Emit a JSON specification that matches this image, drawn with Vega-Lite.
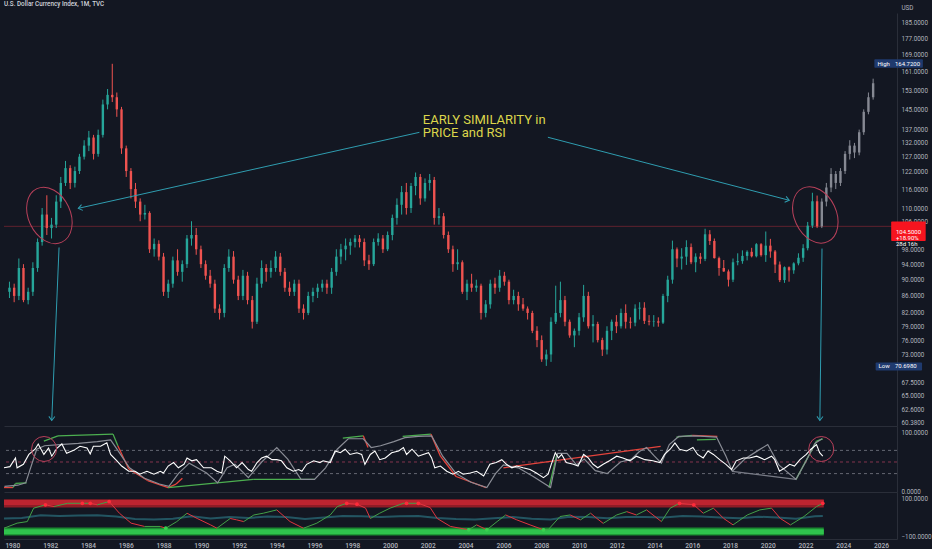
{
  "$schema": "https://vega.github.io/schema/vega-lite/v6.json",
  "background": "#131722",
  "padding": 0,
  "spacing": 0,
  "bounds": "flush",
  "resolve": {"scale": {"color": "independent"}},
  "title": {
    "text": "U.S. Dollar Currency Index, 1M, TVC",
    "anchor": "start",
    "frame": "bounds",
    "offset": 0,
    "dx": 4,
    "dy": 3,
    "fontSize": 6.3,
    "fontWeight": 500,
    "font": "Roboto",
    "color": "#d1d4dc"
  },
  "config": {
    "view": {"stroke": null},
    "font": "Roboto",
    "axis": {
      "grid": false,
      "ticks": false,
      "labelFont": "Roboto",
      "labelColor": "#b2b5be",
      "labelFontSize": 6.3,
      "domainColor": "#2a2e39",
      "title": null
    }
  },
  "datasets": {
    "candles": [
      {"t":"1979-08","o":87,"h":89.5,"l":85.5,"c":88},
      {"t":"1979-11","o":88,"h":89,"l":84.5,"c":86},
      {"t":"1980-02","o":86,"h":95.5,"l":85,"c":93},
      {"t":"1980-05","o":93,"h":94,"l":84.5,"c":85},
      {"t":"1980-08","o":85,"h":88,"l":84,"c":87},
      {"t":"1980-11","o":87,"h":94.5,"l":86,"c":93},
      {"t":"1981-02","o":93,"h":101,"l":92,"c":100},
      {"t":"1981-05","o":100,"h":110,"l":99,"c":108},
      {"t":"1981-08","o":108,"h":114,"l":102,"c":104},
      {"t":"1981-11","o":104,"h":107,"l":101,"c":105},
      {"t":"1982-02","o":105,"h":114,"l":104,"c":112},
      {"t":"1982-05","o":112,"h":120,"l":110,"c":118},
      {"t":"1982-08","o":118,"h":125.5,"l":117,"c":123},
      {"t":"1982-11","o":123,"h":124,"l":116,"c":118},
      {"t":"1983-02","o":118,"h":123.5,"l":116.5,"c":122},
      {"t":"1983-05","o":122,"h":128,"l":121,"c":127},
      {"t":"1983-08","o":127,"h":133,"l":126,"c":131},
      {"t":"1983-11","o":131,"h":136.5,"l":129,"c":134},
      {"t":"1984-02","o":134,"h":135,"l":126,"c":128},
      {"t":"1984-05","o":128,"h":137,"l":127,"c":135},
      {"t":"1984-08","o":135,"h":149,"l":134,"c":147},
      {"t":"1984-11","o":147,"h":153.5,"l":145,"c":151},
      {"t":"1985-02","o":151,"h":164.72,"l":148,"c":150},
      {"t":"1985-05","o":150,"h":152,"l":142,"c":145},
      {"t":"1985-08","o":145,"h":146,"l":128,"c":130},
      {"t":"1985-11","o":130,"h":131,"l":120,"c":122},
      {"t":"1986-02","o":122,"h":123,"l":113,"c":116},
      {"t":"1986-05","o":116,"h":118,"l":110,"c":112},
      {"t":"1986-08","o":112,"h":113,"l":106,"c":108},
      {"t":"1986-11","o":108,"h":111,"l":106.5,"c":108.5},
      {"t":"1987-02","o":108.5,"h":109,"l":97,"c":98},
      {"t":"1987-05","o":98,"h":101,"l":96,"c":99.5},
      {"t":"1987-08","o":99.5,"h":100.5,"l":95,"c":96},
      {"t":"1987-11","o":96,"h":97,"l":86,"c":87},
      {"t":"1988-02","o":87,"h":90,"l":85.5,"c":89},
      {"t":"1988-05","o":89,"h":96,"l":88,"c":95},
      {"t":"1988-08","o":95,"h":98,"l":91,"c":92},
      {"t":"1988-11","o":92,"h":95,"l":89.5,"c":94},
      {"t":"1989-02","o":94,"h":102,"l":93,"c":101},
      {"t":"1989-05","o":101,"h":106,"l":99,"c":102},
      {"t":"1989-08","o":102,"h":104,"l":96.5,"c":98},
      {"t":"1989-11","o":98,"h":99,"l":93,"c":94},
      {"t":"1990-02","o":94,"h":95,"l":90,"c":91},
      {"t":"1990-05","o":91,"h":92.5,"l":88,"c":89},
      {"t":"1990-08","o":89,"h":90,"l":82,"c":83},
      {"t":"1990-11","o":83,"h":84,"l":80.5,"c":82},
      {"t":"1991-02","o":82,"h":94,"l":81,"c":93},
      {"t":"1991-05","o":93,"h":98,"l":92,"c":96},
      {"t":"1991-08","o":96,"h":97.5,"l":89,"c":90},
      {"t":"1991-11","o":90,"h":91,"l":85,"c":86},
      {"t":"1992-02","o":86,"h":92.5,"l":85,"c":91},
      {"t":"1992-05","o":91,"h":92,"l":84,"c":85},
      {"t":"1992-08","o":85,"h":86,"l":78.5,"c":80},
      {"t":"1992-11","o":80,"h":90.5,"l":79.5,"c":89},
      {"t":"1993-02","o":89,"h":95,"l":88,"c":93},
      {"t":"1993-05","o":93,"h":94,"l":89.5,"c":92},
      {"t":"1993-08","o":92,"h":95,"l":90.5,"c":93},
      {"t":"1993-11","o":93,"h":97.5,"l":92,"c":96},
      {"t":"1994-02","o":96,"h":97,"l":91,"c":92},
      {"t":"1994-05","o":92,"h":93,"l":87,"c":88},
      {"t":"1994-08","o":88,"h":89.5,"l":86,"c":87},
      {"t":"1994-11","o":87,"h":90,"l":86,"c":89},
      {"t":"1995-02","o":89,"h":90,"l":82,"c":83},
      {"t":"1995-05","o":83,"h":84,"l":80.5,"c":82},
      {"t":"1995-08","o":82,"h":87,"l":81.5,"c":86},
      {"t":"1995-11","o":86,"h":88,"l":84.5,"c":87},
      {"t":"1996-02","o":87,"h":89,"l":85.5,"c":88},
      {"t":"1996-05","o":88,"h":90,"l":87,"c":89},
      {"t":"1996-08","o":89,"h":90,"l":86.5,"c":88},
      {"t":"1996-11","o":88,"h":93,"l":86.5,"c":92},
      {"t":"1997-02","o":92,"h":98,"l":91,"c":96},
      {"t":"1997-05","o":96,"h":99.5,"l":94,"c":98},
      {"t":"1997-08","o":98,"h":101,"l":95,"c":99},
      {"t":"1997-11","o":99,"h":101,"l":96.5,"c":100},
      {"t":"1998-02","o":100,"h":102,"l":98.5,"c":101},
      {"t":"1998-05","o":101,"h":102,"l":98.5,"c":100},
      {"t":"1998-08","o":100,"h":101,"l":93.5,"c":95},
      {"t":"1998-11","o":95,"h":96.5,"l":92.5,"c":94},
      {"t":"1999-02","o":94,"h":101,"l":93.5,"c":100},
      {"t":"1999-05","o":100,"h":102.5,"l":99,"c":101},
      {"t":"1999-08","o":101,"h":102,"l":97,"c":98},
      {"t":"1999-11","o":98,"h":103,"l":97.5,"c":102},
      {"t":"2000-02","o":102,"h":108,"l":100.5,"c":107},
      {"t":"2000-05","o":107,"h":113,"l":105,"c":111},
      {"t":"2000-08","o":111,"h":117,"l":108,"c":115},
      {"t":"2000-11","o":115,"h":118,"l":108,"c":110},
      {"t":"2001-02","o":110,"h":118,"l":108.5,"c":117},
      {"t":"2001-05","o":117,"h":121.5,"l":114,"c":120},
      {"t":"2001-08","o":120,"h":121,"l":111,"c":113},
      {"t":"2001-11","o":113,"h":119.5,"l":112,"c":118},
      {"t":"2002-02","o":118,"h":121,"l":115.5,"c":119},
      {"t":"2002-05","o":119,"h":120,"l":105,"c":107},
      {"t":"2002-08","o":107,"h":110,"l":105,"c":107.5},
      {"t":"2002-11","o":107.5,"h":108.5,"l":101,"c":102},
      {"t":"2003-02","o":102,"h":103,"l":97,"c":98},
      {"t":"2003-05","o":98,"h":99,"l":92,"c":94},
      {"t":"2003-08","o":94,"h":98,"l":92.5,"c":94.5},
      {"t":"2003-11","o":94.5,"h":95,"l":86.5,"c":87},
      {"t":"2004-02","o":87,"h":90,"l":85,"c":89},
      {"t":"2004-05","o":89,"h":91.5,"l":87,"c":88},
      {"t":"2004-08","o":88,"h":90,"l":87,"c":88.5},
      {"t":"2004-11","o":88.5,"h":89,"l":80.5,"c":82},
      {"t":"2005-02","o":82,"h":85,"l":81,"c":84},
      {"t":"2005-05","o":84,"h":90,"l":83,"c":89},
      {"t":"2005-08","o":89,"h":90.5,"l":86.5,"c":88},
      {"t":"2005-11","o":88,"h":92.5,"l":87,"c":91},
      {"t":"2006-02","o":91,"h":92,"l":88.5,"c":89.5},
      {"t":"2006-05","o":89.5,"h":90,"l":84,"c":85},
      {"t":"2006-08","o":85,"h":87.5,"l":84,"c":86},
      {"t":"2006-11","o":86,"h":87,"l":82.5,"c":84},
      {"t":"2007-02","o":84,"h":85.5,"l":82.5,"c":83},
      {"t":"2007-05","o":83,"h":83.5,"l":80.5,"c":82},
      {"t":"2007-08","o":82,"h":82.5,"l":77.5,"c":78},
      {"t":"2007-11","o":78,"h":79,"l":74.5,"c":76},
      {"t":"2008-02","o":76,"h":77,"l":71.5,"c":72},
      {"t":"2008-05","o":72,"h":74,"l":70.698,"c":73},
      {"t":"2008-08","o":73,"h":81,"l":71.5,"c":80},
      {"t":"2008-11","o":80,"h":88.5,"l":79.5,"c":82},
      {"t":"2009-02","o":82,"h":89.5,"l":81,"c":85},
      {"t":"2009-05","o":85,"h":86,"l":79,"c":80},
      {"t":"2009-08","o":80,"h":80.5,"l":76.5,"c":77},
      {"t":"2009-11","o":77,"h":78.5,"l":74.5,"c":78},
      {"t":"2010-02","o":78,"h":82,"l":77,"c":81},
      {"t":"2010-05","o":81,"h":88.7,"l":80,"c":86},
      {"t":"2010-08","o":86,"h":87,"l":78.5,"c":79},
      {"t":"2010-11","o":79,"h":81.5,"l":75.5,"c":79.5},
      {"t":"2011-02","o":79.5,"h":80,"l":75.5,"c":76},
      {"t":"2011-05","o":76,"h":76.5,"l":72.7,"c":74},
      {"t":"2011-08","o":74,"h":79,"l":73,"c":78},
      {"t":"2011-11","o":78,"h":80.5,"l":76,"c":80},
      {"t":"2012-02","o":80,"h":81.5,"l":77.5,"c":79},
      {"t":"2012-05","o":79,"h":83,"l":78.5,"c":82},
      {"t":"2012-08","o":82,"h":84,"l":78.5,"c":80},
      {"t":"2012-11","o":80,"h":81,"l":78.5,"c":79.8},
      {"t":"2013-02","o":79.8,"h":84,"l":79,"c":83},
      {"t":"2013-05","o":83,"h":84.5,"l":80.5,"c":83.2},
      {"t":"2013-08","o":83.2,"h":84.5,"l":79.5,"c":80.2},
      {"t":"2013-11","o":80.2,"h":81.5,"l":79.2,"c":80},
      {"t":"2014-02","o":80,"h":81.5,"l":78.9,"c":80.1},
      {"t":"2014-05","o":80.1,"h":81,"l":78.9,"c":79.8},
      {"t":"2014-08","o":79.8,"h":86.5,"l":79.5,"c":86},
      {"t":"2014-11","o":86,"h":91,"l":84.5,"c":90},
      {"t":"2015-02","o":90,"h":100.4,"l":89,"c":98},
      {"t":"2015-05","o":98,"h":98.5,"l":93.2,"c":95.5},
      {"t":"2015-08","o":95.5,"h":98.3,"l":92.6,"c":96},
      {"t":"2015-11","o":96,"h":100.5,"l":93.8,"c":98.6},
      {"t":"2016-02","o":98.6,"h":99.6,"l":94,"c":94.5},
      {"t":"2016-05","o":94.5,"h":96.9,"l":91.9,"c":96},
      {"t":"2016-08","o":96,"h":97,"l":94.1,"c":95.4},
      {"t":"2016-11","o":95.4,"h":103.8,"l":94.8,"c":102.2},
      {"t":"2017-02","o":102.2,"h":103.4,"l":99.2,"c":100.3},
      {"t":"2017-05","o":100.3,"h":101,"l":95.5,"c":95.6},
      {"t":"2017-08","o":95.6,"h":96,"l":91,"c":93},
      {"t":"2017-11","o":93,"h":95.1,"l":92,"c":92.1},
      {"t":"2018-02","o":92.1,"h":92.6,"l":88.3,"c":90},
      {"t":"2018-05","o":90,"h":95.5,"l":89.4,"c":94.5},
      {"t":"2018-08","o":94.5,"h":96.9,"l":93.7,"c":94.8},
      {"t":"2018-11","o":94.8,"h":97.7,"l":94.1,"c":96.2},
      {"t":"2019-02","o":96.2,"h":97.7,"l":95,"c":97.3},
      {"t":"2019-05","o":97.3,"h":98.4,"l":95.8,"c":96.1},
      {"t":"2019-08","o":96.1,"h":99.7,"l":95.8,"c":99.4},
      {"t":"2019-11","o":99.4,"h":99.7,"l":96,"c":96.4},
      {"t":"2020-02","o":96.4,"h":103,"l":94.6,"c":99},
      {"t":"2020-05","o":99,"h":100.9,"l":95.7,"c":97.4},
      {"t":"2020-08","o":97.4,"h":97.8,"l":91.7,"c":93.9},
      {"t":"2020-11","o":93.9,"h":94.7,"l":89.4,"c":89.9},
      {"t":"2021-02","o":89.9,"h":93.4,"l":89.2,"c":93.2},
      {"t":"2021-05","o":93.2,"h":93.4,"l":89.5,"c":92.4},
      {"t":"2021-08","o":92.4,"h":94.5,"l":91.5,"c":94.2},
      {"t":"2021-11","o":94.2,"h":96.9,"l":93.7,"c":95.7},
      {"t":"2022-02","o":95.7,"h":99.4,"l":94.6,"c":98.3},
      {"t":"2022-05","o":98.3,"h":105.8,"l":97.7,"c":104.7},
      {"t":"2022-08","o":104.7,"h":114.8,"l":104,"c":112.1},
      {"t":"2022-11","o":112.1,"h":113.9,"l":104,"c":104.5}
    ],
    "proj": [
      {"t":"2023-02","o":104.5,"h":113,"l":104,"c":112},
      {"t":"2023-05","o":112,"h":118,"l":110.5,"c":116.5},
      {"t":"2023-08","o":116.5,"h":123,"l":115,"c":121},
      {"t":"2023-11","o":121,"h":122,"l":116,"c":118},
      {"t":"2024-02","o":118,"h":123,"l":117,"c":122},
      {"t":"2024-05","o":122,"h":129,"l":121,"c":128},
      {"t":"2024-08","o":128,"h":133,"l":126,"c":131},
      {"t":"2024-11","o":131,"h":132,"l":126.5,"c":128.5},
      {"t":"2025-02","o":128.5,"h":137,"l":127.5,"c":136},
      {"t":"2025-05","o":136,"h":145,"l":135,"c":144},
      {"t":"2025-08","o":144,"h":152,"l":143,"c":150},
      {"t":"2025-11","o":150,"h":158,"l":149,"c":156}
    ],
    "rsi": [
      {"t":"1979-07-23","v":40},{"t":"1979-11-15","v":42},{"t":"1980-03-01","v":57},{"t":"1980-04-01","v":40},
      {"t":"1980-08-01","v":46},{"t":"1980-11-15","v":63},{"t":"1981-03-15","v":72},{"t":"1981-05-15","v":81},
      {"t":"1981-09-01","v":63},{"t":"1981-12-01","v":74},{"t":"1982-02-01","v":60},{"t":"1982-05-15","v":74},
      {"t":"1982-08-15","v":81},{"t":"1982-11-15","v":65},{"t":"1983-04-01","v":70},{"t":"1983-08-01","v":77},
      {"t":"1983-12-15","v":74},{"t":"1984-02-15","v":64},{"t":"1984-04-15","v":77},{"t":"1984-09-01","v":77},
      {"t":"1984-11-01","v":80},{"t":"1985-01-01","v":83},{"t":"1985-03-15","v":63},{"t":"1985-07-15","v":52},
      {"t":"1985-10-15","v":43},{"t":"1986-03-01","v":34},{"t":"1986-07-01","v":34},{"t":"1986-10-01","v":29},
      {"t":"1987-02-15","v":34},{"t":"1987-07-01","v":29},{"t":"1987-11-01","v":34},{"t":"1988-01-01","v":31},
      {"t":"1988-04-01","v":43},{"t":"1988-07-15","v":49},{"t":"1988-10-15","v":40},{"t":"1989-02-01","v":46},
      {"t":"1989-04-01","v":57},{"t":"1989-07-01","v":52},{"t":"1989-10-01","v":54},{"t":"1990-02-15","v":40},
      {"t":"1990-07-15","v":40},{"t":"1990-11-01","v":34},{"t":"1991-02-01","v":31},{"t":"1991-04-01","v":60},
      {"t":"1991-07-15","v":52},{"t":"1991-11-15","v":40},{"t":"1992-03-01","v":49},{"t":"1992-07-01","v":37},
      {"t":"1992-09-01","v":34},{"t":"1992-12-15","v":49},{"t":"1993-03-15","v":57},{"t":"1993-06-15","v":60},
      {"t":"1993-10-01","v":54},{"t":"1994-01-01","v":54},{"t":"1994-04-01","v":52},{"t":"1994-07-15","v":40},
      {"t":"1994-11-15","v":34},{"t":"1995-03-01","v":37},{"t":"1995-05-01","v":34},{"t":"1995-08-01","v":46},
      {"t":"1995-12-15","v":52},{"t":"1996-04-15","v":49},{"t":"1996-06-15","v":52},{"t":"1996-11-01","v":49},
      {"t":"1997-02-01","v":69},{"t":"1997-05-15","v":66},{"t":"1997-08-15","v":72},{"t":"1997-11-15","v":63},
      {"t":"1998-04-01","v":66},{"t":"1998-07-01","v":63},{"t":"1998-09-01","v":46},{"t":"1998-12-15","v":63},
      {"t":"1999-03-15","v":69},{"t":"1999-06-15","v":54},{"t":"1999-10-01","v":57},{"t":"2000-02-01","v":66},
      {"t":"2000-06-15","v":69},{"t":"2000-09-15","v":75},{"t":"2000-11-15","v":63},{"t":"2001-03-01","v":72},
      {"t":"2001-07-01","v":60},{"t":"2001-10-01","v":63},{"t":"2002-01-15","v":66},{"t":"2002-03-15","v":57},
      {"t":"2002-05-15","v":40},{"t":"2002-09-01","v":43},{"t":"2003-01-01","v":34},{"t":"2003-05-01","v":29},
      {"t":"2003-08-15","v":34},{"t":"2003-11-15","v":29},{"t":"2004-04-01","v":31},{"t":"2004-08-01","v":34},
      {"t":"2004-12-15","v":26},{"t":"2005-04-15","v":46},{"t":"2005-08-15","v":49},{"t":"2005-12-01","v":54},
      {"t":"2006-03-01","v":46},{"t":"2006-06-15","v":40},{"t":"2006-09-15","v":43},{"t":"2007-01-15","v":40},
      {"t":"2007-06-01","v":37},{"t":"2007-10-01","v":31},{"t":"2008-02-15","v":23},{"t":"2008-05-15","v":29},
      {"t":"2008-07-15","v":46},{"t":"2008-10-01","v":66},{"t":"2008-12-01","v":57},{"t":"2009-02-01","v":63},
      {"t":"2009-05-01","v":49},{"t":"2009-09-15","v":46},{"t":"2009-12-15","v":43},{"t":"2010-04-01","v":63},
      {"t":"2010-07-01","v":57},{"t":"2010-10-01","v":46},{"t":"2011-01-01","v":40},{"t":"2011-04-15","v":46},
      {"t":"2011-08-15","v":52},{"t":"2012-01-01","v":60},{"t":"2012-05-01","v":57},{"t":"2012-09-15","v":52},
      {"t":"2013-01-15","v":60},{"t":"2013-07-01","v":54},{"t":"2013-12-01","v":52},{"t":"2014-04-15","v":49},
      {"t":"2014-07-15","v":63},{"t":"2014-11-01","v":72},{"t":"2015-02-01","v":83},{"t":"2015-05-01","v":72},
      {"t":"2015-09-15","v":69},{"t":"2016-01-15","v":75},{"t":"2016-04-15","v":63},{"t":"2016-08-01","v":57},
      {"t":"2016-11-01","v":69},{"t":"2017-02-15","v":63},{"t":"2017-06-15","v":54},{"t":"2017-10-15","v":46},
      {"t":"2018-02-01","v":37},{"t":"2018-05-01","v":52},{"t":"2018-09-15","v":57},{"t":"2019-01-15","v":57},
      {"t":"2019-06-01","v":60},{"t":"2019-11-01","v":54},{"t":"2020-03-15","v":60},{"t":"2020-05-15","v":54},
      {"t":"2020-08-15","v":34},{"t":"2020-12-01","v":40},{"t":"2021-03-01","v":46},{"t":"2021-06-01","v":43},
      {"t":"2021-09-15","v":54},{"t":"2022-01-15","v":63},{"t":"2022-04-15","v":72},{"t":"2022-08-01","v":80},
      {"t":"2022-10-01","v":66},{"t":"2022-12-01","v":60}
    ],
    "slow": [
      {"t":"1979-08-01","v":8},{"t":"1980-04-15","v":10},{"t":"1980-09-15","v":14},{"t":"1981-04-15","v":72},
      {"t":"1981-09-15","v":78},{"t":"1982-07-01","v":80},{"t":"1983-07-01","v":82},{"t":"1984-07-01","v":85},
      {"t":"1985-03-15","v":88},{"t":"1985-08-01","v":70},{"t":"1986-03-15","v":40},{"t":"1987-01-01","v":22},
      {"t":"1987-10-15","v":12},{"t":"1988-04-15","v":8},{"t":"1988-10-15","v":30},{"t":"1989-05-15","v":48},
      {"t":"1990-04-15","v":31},{"t":"1990-11-15","v":14},{"t":"1991-05-15","v":40},{"t":"1991-10-15","v":46},
      {"t":"1992-07-01","v":23},{"t":"1993-03-15","v":50},{"t":"1994-01-01","v":75},{"t":"1994-08-01","v":55},
      {"t":"1995-04-15","v":20},{"t":"1996-01-01","v":20},{"t":"1996-08-01","v":40},{"t":"1997-03-15","v":72},
      {"t":"1997-10-15","v":90},{"t":"1998-08-01","v":90},{"t":"1999-01-01","v":75},{"t":"1999-07-01","v":78},
      {"t":"2000-03-15","v":85},{"t":"2000-10-15","v":92},{"t":"2001-07-01","v":94},{"t":"2002-03-15","v":95},
      {"t":"2002-10-15","v":60},{"t":"2003-07-01","v":30},{"t":"2004-04-15","v":15},{"t":"2005-02-15","v":6},
      {"t":"2005-08-01","v":30},{"t":"2006-01-01","v":45},{"t":"2006-10-15","v":40},{"t":"2007-08-01","v":25},
      {"t":"2008-07-01","v":6},{"t":"2008-11-15","v":65},{"t":"2009-05-15","v":65},{"t":"2009-11-15","v":45},
      {"t":"2010-04-15","v":55},{"t":"2010-11-15","v":35},{"t":"2011-07-01","v":30},{"t":"2012-03-15","v":50},
      {"t":"2012-10-15","v":55},{"t":"2013-03-15","v":68},{"t":"2013-08-01","v":75},{"t":"2014-01-01","v":60},
      {"t":"2014-05-15","v":48},{"t":"2014-10-15","v":80},{"t":"2015-04-15","v":94},{"t":"2016-03-15","v":95},
      {"t":"2017-04-15","v":93},{"t":"2017-10-15","v":60},{"t":"2018-02-15","v":34},{"t":"2018-10-15","v":55},
      {"t":"2019-07-01","v":70},{"t":"2020-01-01","v":80},{"t":"2020-08-01","v":45},{"t":"2021-07-01","v":20},
      {"t":"2022-01-01","v":50},{"t":"2022-07-01","v":82},{"t":"2022-11-15","v":90}
    ],
    "env": [
      {"k":"dn","t":"1979-07-23","v":6,"t2":"1980-01-15","v2":6},
      {"k":"up","t":"1980-01-15","v":6,"t2":"1980-03-01","v2":13},
      {"k":"up","t":"1980-03-01","v":13,"t2":"1980-10-01","v2":14},
      {"k":"up","t":"1981-09-01","v":86,"t2":"1982-06-01","v2":95},
      {"k":"up","t":"1982-06-01","v":95,"t2":"1985-05-01","v2":98},
      {"k":"up","t":"1985-05-01","v":98,"t2":"1985-08-01","v2":78},
      {"k":"dn","t":"1985-08-01","v":78,"t2":"1986-03-01","v2":38},
      {"k":"dn","t":"1986-03-01","v":38,"t2":"1987-03-01","v2":18},
      {"k":"dn","t":"1987-03-01","v":18,"t2":"1988-04-01","v2":6},
      {"k":"dn","t":"1988-04-01","v":6,"t2":"1988-09-01","v2":12},
      {"k":"dn","t":"1988-09-01","v":12,"t2":"1989-01-01","v2":22},
      {"k":"up","t":"1988-04-01","v":6,"t2":"1992-10-01","v2":20},
      {"k":"up","t":"1992-10-01","v":20,"t2":"1996-01-01","v2":20},
      {"k":"up","t":"1997-07-01","v":91,"t2":"1998-08-01","v2":95},
      {"k":"dn","t":"1998-08-01","v":95,"t2":"1998-11-01","v2":75},
      {"k":"up","t":"2000-09-01","v":94,"t2":"2002-03-01","v2":98},
      {"k":"dn","t":"2002-03-01","v":98,"t2":"2002-09-01","v2":60},
      {"k":"dn","t":"2002-09-01","v":60,"t2":"2003-07-01","v2":25},
      {"k":"dn","t":"2003-07-01","v":25,"t2":"2005-02-01","v2":6},
      {"k":"dn","t":"2006-01-01","v":40,"t2":"2014-05-01","v2":77},
      {"k":"up","t":"2008-06-01","v":6,"t2":"2008-11-01","v2":63},
      {"k":"up","t":"2015-03-01","v":93,"t2":"2016-01-01","v2":96},
      {"k":"dn","t":"2016-01-01","v":96,"t2":"2017-05-01","v2":94},
      {"k":"up","t":"2016-04-01","v":88,"t2":"2017-04-01","v2":89},
      {"k":"gr","t":"2018-02-15","v":34,"t2":"2021-07-01","v2":20},
      {"k":"up","t":"2021-07-01","v":20,"t2":"2022-08-01","v2":86},
      {"k":"up","t":"2022-08-01","v":86,"t2":"2022-12-01","v2":90}
    ],
    "osc": [
      {"t":"1979-07-23","v":-55},{"t":"1980-04-01","v":-29},{"t":"1980-10-15","v":-21},{"t":"1981-02-15","v":48},
      {"t":"1981-10-01","v":65,"d":"r"},{"t":"1982-03-15","v":56},{"t":"1982-12-01","v":73},{"t":"1983-09-15","v":73,"d":"r"},
      {"t":"1984-02-15","v":73,"d":"r"},{"t":"1984-07-01","v":65},{"t":"1985-02-15","v":82,"d":"r"},{"t":"1985-09-01","v":22},
      {"t":"1986-04-15","v":-29},{"t":"1987-01-01","v":-46},{"t":"1987-11-01","v":-46},{"t":"1988-02-15","v":-55,"d":"g"},
      {"t":"1988-09-15","v":-21},{"t":"1989-04-01","v":22},{"t":"1989-10-15","v":-5},{"t":"1990-07-01","v":-38},
      {"t":"1990-11-01","v":-55},{"t":"1991-07-15","v":-5},{"t":"1991-11-15","v":-12},{"t":"1992-04-01","v":-21},
      {"t":"1992-10-15","v":13},{"t":"1993-04-15","v":22},{"t":"1994-01-01","v":39},{"t":"1994-09-15","v":-21},
      {"t":"1995-06-01","v":-55},{"t":"1996-02-15","v":-29},{"t":"1996-11-01","v":13},{"t":"1997-03-15","v":56},
      {"t":"1997-09-15","v":73,"d":"r"},{"t":"1998-04-01","v":68,"d":"r"},{"t":"1998-09-15","v":48},{"t":"1998-12-15","v":-5},
      {"t":"1999-06-15","v":22},{"t":"2000-01-01","v":48},{"t":"2000-09-15","v":73},{"t":"2000-11-15","v":73,"d":"r"},
      {"t":"2001-07-01","v":73,"d":"r"},{"t":"2002-02-15","v":51},{"t":"2002-07-01","v":-5},{"t":"2003-03-15","v":-46},
      {"t":"2004-03-01","v":-63,"d":"g"},{"t":"2004-08-01","v":-38},{"t":"2005-02-15","v":-63,"d":"g"},{"t":"2005-09-01","v":-21},
      {"t":"2006-02-15","v":13},{"t":"2006-09-15","v":-12},{"t":"2007-06-01","v":-38},{"t":"2008-02-15","v":-63,"d":"g"},
      {"t":"2008-05-15","v":-63},{"t":"2009-01-01","v":5},{"t":"2009-07-15","v":13},{"t":"2010-02-01","v":-12},
      {"t":"2010-08-15","v":22},{"t":"2010-12-15","v":-5},{"t":"2011-04-15","v":-30},{"t":"2012-01-01","v":13},
      {"t":"2012-07-15","v":30},{"t":"2013-01-15","v":13},{"t":"2013-08-01","v":39},{"t":"2014-05-15","v":-21},
      {"t":"2014-11-01","v":48},{"t":"2015-05-01","v":73,"d":"r"},{"t":"2016-02-01","v":65,"d":"r"},{"t":"2016-08-01","v":22},
      {"t":"2017-02-15","v":48},{"t":"2017-09-01","v":-5},{"t":"2018-03-01","v":-38},{"t":"2018-12-01","v":13},
      {"t":"2019-08-01","v":39},{"t":"2020-03-15","v":48},{"t":"2020-09-01","v":-5},{"t":"2021-03-15","v":-38},
      {"t":"2021-12-01","v":5},{"t":"2022-08-01","v":56},{"t":"2022-12-01","v":73,"d":"r"}
    ],
    "sig": [
      {"t":"1979-07-23","v":-5},{"t":"1980-07-01","v":-3},{"t":"1981-07-01","v":12},{"t":"1982-07-01","v":8},
      {"t":"1983-07-01","v":10},{"t":"1984-07-01","v":12},{"t":"1985-07-01","v":5},{"t":"1986-07-01","v":-8},
      {"t":"1987-07-01","v":-10},{"t":"1988-07-01","v":-6},{"t":"1989-07-01","v":6},{"t":"1990-07-01","v":-5},
      {"t":"1991-07-01","v":2},{"t":"1992-07-01","v":-3},{"t":"1993-07-01","v":5},{"t":"1994-07-01","v":3},
      {"t":"1995-07-01","v":-8},{"t":"1996-07-01","v":0},{"t":"1997-07-01","v":8},{"t":"1998-07-01","v":6},
      {"t":"1999-07-01","v":2},{"t":"2000-07-01","v":6},{"t":"2001-07-01","v":8},{"t":"2002-07-01","v":-2},
      {"t":"2003-07-01","v":-8},{"t":"2004-07-01","v":-10},{"t":"2005-07-01","v":-4},{"t":"2006-07-01","v":2},
      {"t":"2007-07-01","v":-6},{"t":"2008-07-01","v":-10},{"t":"2009-07-01","v":4},{"t":"2010-07-01","v":2},
      {"t":"2011-07-01","v":-4},{"t":"2012-07-01","v":3},{"t":"2013-07-01","v":2},{"t":"2014-07-01","v":0},
      {"t":"2015-07-01","v":8},{"t":"2016-07-01","v":5},{"t":"2017-07-01","v":0},{"t":"2018-07-01","v":-4},
      {"t":"2019-07-01","v":4},{"t":"2020-07-01","v":0},{"t":"2021-07-01","v":-6},{"t":"2022-07-01","v":6},
      {"t":"2022-12-01","v":8}
    ],
    "arrows": [
      {"id":"a1","t":"2001-07-15","p":135.96,"t2":"1983-04-08","p2":109.9},
      {"id":"a2","t":"2008-06-01","p":134.1,"t2":"2021-05-05","p2":112.4},
      {"id":"a3","t":"1982-03-28","p":98.5,"t2":"1981-11-05","p2":60.68},
      {"id":"a4","t":"2023-02-05","p":98.2,"t2":"2022-12-25","p2":60.68}
    ],
    "boxes": [
      {"k":"hi","t":"2025-11-25","t2":"2028-07-01","p":166.8,"p2":162.9},
      {"k":"lo","t":"2025-12-20","t2":"2028-06-15","p":71.38,"p2":69.8},
      {"k":"last","t":"2026-10-20","t2":"2028-08-25","p":105.9,"p2":100.3}
    ],
    "tags": [
      {"t":"2026-01-25","p":164.72,"txt":"High"},
      {"t":"2027-01-01","p":164.72,"txt":"164.7200"},
      {"t":"2026-02-15","p":70.698,"txt":"Low"},
      {"t":"2027-01-01","p":70.698,"txt":"70.6980"},
      {"t":"2027-01-20","p":103.0,"txt":"104.5000\n+18.90%\n28d 16h"}
    ],
    "notes": [
      {"t":"2001-09-20","p":140.9,"txt":"EARLY SIMILARITY in"},
      {"t":"2001-09-20","p":135.6,"txt":"PRICE and RSI"}
    ]
  },
  "vconcat": [
    {
      "width": 893,
      "height": 413,
      "layer": [
        {
          "data": {"values": [{"p": 104.5}]},
          "mark": {"type": "rule", "color": "#f23645", "strokeOpacity": 0.35, "strokeWidth": 1},
          "encoding": {"y": {"field": "p", "type": "quantitative"}}
        },
        {
          "data": {"name": "candles"},
          "mark": {"type": "rule", "strokeWidth": 1},
          "encoding": {
            "x": {"field": "t", "type": "temporal",
              "scale": {"domain": [{"year": 1979, "month": 7, "date": 23}, {"year": 2026, "month": 11, "date": 5}]},
              "axis": {"labels": false, "ticks": false, "domain": true, "title": null, "grid": false}},
            "y": {"field": "l", "type": "quantitative",
              "scale": {"type": "log", "domain": [59.75, 189.9], "nice": false, "zero": false},
              "axis": {"orient": "right", "values": [60.38, 62.6, 65, 67.5, 73, 76, 79, 82, 86, 90, 94, 98, 106, 110, 116, 122, 127, 132, 137, 145, 153, 161, 169, 177, 185],
                "format": ".4f", "labelPadding": 4, "minExtent": 39, "maxExtent": 39, "domain": true,
                "title": "USD", "titleAngle": 0, "titleAlign": "left", "titleBaseline": "top", "titleX": 4, "titleY": -9,
                "titleColor": "#b2b5be", "titleFontSize": 6.3, "titleFontWeight": "normal", "titleFont": "Roboto"}},
            "y2": {"field": "h"},
            "color": {"condition": {"test": "datum.c >= datum.o", "value": "#26a69a"}, "value": "#ef5350"}
          }
        },
        {
          "data": {"name": "candles"},
          "mark": {"type": "bar", "width": 2.4},
          "encoding": {
            "x": {"field": "t", "type": "temporal"},
            "y": {"field": "o", "type": "quantitative"},
            "y2": {"field": "c"},
            "color": {"condition": {"test": "datum.c >= datum.o", "value": "#26a69a"}, "value": "#ef5350"}
          }
        },
        {
          "data": {"name": "proj"},
          "mark": {"type": "rule", "strokeWidth": 1, "color": "#868993"},
          "encoding": {
            "x": {"field": "t", "type": "temporal"},
            "y": {"field": "l", "type": "quantitative"},
            "y2": {"field": "h"}
          }
        },
        {
          "data": {"name": "proj"},
          "mark": {"type": "bar", "width": 2.4, "color": "#868993"},
          "encoding": {
            "x": {"field": "t", "type": "temporal"},
            "y": {"field": "o", "type": "quantitative"},
            "y2": {"field": "c"}
          }
        },
        {
          "data": {"name": "arrows"},
          "mark": {"type": "rule", "color": "#2f9db0", "strokeWidth": 1},
          "encoding": {
            "x": {"field": "t", "type": "temporal"},
            "x2": {"field": "t2"},
            "y": {"field": "p", "type": "quantitative"},
            "y2": {"field": "p2"}
          }
        },
        {
          "data": {"name": "arrows"},
          "transform": [{"filter": "datum.id == 'a1'"}],
          "mark": {"type": "point", "shape": "M-1,-0.75L0,0L-1,0.75", "size": 64, "angle": 167.6, "filled": false, "stroke": "#2f9db0", "strokeWidth": 1, "opacity": 1},
          "encoding": {"x": {"field": "t2", "type": "temporal"}, "y": {"field": "p2", "type": "quantitative"}}
        },
        {
          "data": {"name": "arrows"},
          "transform": [{"filter": "datum.id == 'a2'"}],
          "mark": {"type": "point", "shape": "M-1,-0.75L0,0L-1,0.75", "size": 64, "angle": 14.5, "filled": false, "stroke": "#2f9db0", "strokeWidth": 1, "opacity": 1},
          "encoding": {"x": {"field": "t2", "type": "temporal"}, "y": {"field": "p2", "type": "quantitative"}}
        },
        {
          "data": {"name": "arrows"},
          "transform": [{"filter": "datum.id == 'a3' || datum.id == 'a4'"}],
          "mark": {"type": "point", "shape": "M-1,-0.75L0,0L-1,0.75", "size": 64, "angle": 91.5, "filled": false, "stroke": "#2f9db0", "strokeWidth": 1, "opacity": 1},
          "encoding": {"x": {"field": "t2", "type": "temporal"}, "y": {"field": "p2", "type": "quantitative"}}
        },
        {
          "data": {"values": [{"t": "1981-09-20", "p": 107.75}, {"t": "2022-09-27", "p": 107.9}]},
          "mark": {"type": "point", "shape": "M0,-1.405A1,1.405 0 1,1 0,1.405A1,1.405 0 1,1 0,-1.405Z", "size": 1764, "angle": -25,
            "filled": false, "stroke": "#b8405a", "strokeWidth": 1, "opacity": 1},
          "encoding": {"x": {"field": "t", "type": "temporal"}, "y": {"field": "p", "type": "quantitative"}}
        },
        {
          "data": {"name": "notes"},
          "mark": {"type": "text", "align": "left", "baseline": "middle", "fontSize": 13, "font": "Roboto", "color": "#dcd64b"},
          "encoding": {"x": {"field": "t", "type": "temporal"}, "y": {"field": "p", "type": "quantitative"}, "text": {"field": "txt"}}
        },
        {
          "data": {"name": "boxes"},
          "mark": {"type": "rect", "cornerRadius": 1},
          "encoding": {
            "x": {"field": "t", "type": "temporal"},
            "x2": {"field": "t2"},
            "y": {"field": "p", "type": "quantitative"},
            "y2": {"field": "p2"},
            "color": {"field": "k", "type": "nominal", "scale": {"domain": ["hi", "lo", "last"], "range": ["#1f3a6e", "#1f3a6e", "#f7141f"]}, "legend": null}
          }
        },
        {
          "data": {"name": "tags"},
          "mark": {"type": "text", "align": "left", "baseline": "middle", "fontSize": 6, "font": "Roboto", "color": "#ffffff", "lineBreak": "\n", "lineHeight": 6},
          "encoding": {"x": {"field": "t", "type": "temporal"}, "y": {"field": "p", "type": "quantitative"}, "text": {"field": "txt"}}
        }
      ]
    },
    {
      "width": 893,
      "height": 66,
      "layer": [
        {
          "data": {"values": [{"v": 70}, {"v": 30}]},
          "mark": {"type": "rule", "color": "#787b86", "strokeDash": [3, 3], "strokeWidth": 0.8},
          "encoding": {"y": {"field": "v", "type": "quantitative",
            "scale": {"domain": [-1.7, 112], "nice": false, "zero": false},
            "axis": {"orient": "right", "values": [0, 25, 50, 75, 100], "format": ".4f", "labelPadding": 4, "minExtent": 39, "maxExtent": 39, "domain": true, "title": null}}}
        },
        {
          "data": {"values": [{"v": 50}]},
          "mark": {"type": "rule", "color": "#a03c58", "strokeDash": [3, 3], "strokeWidth": 0.8},
          "encoding": {"y": {"field": "v", "type": "quantitative"}}
        },
        {
          "data": {"name": "env"},
          "mark": {"type": "rule", "strokeWidth": 1.3},
          "encoding": {
            "x": {"field": "t", "type": "temporal",
              "scale": {"domain": [{"year": 1979, "month": 7, "date": 23}, {"year": 2026, "month": 11, "date": 5}]},
              "axis": {"labels": false, "ticks": false, "domain": true, "title": null, "grid": false}},
            "x2": {"field": "t2"},
            "y": {"field": "v", "type": "quantitative"},
            "y2": {"field": "v2"},
            "color": {"field": "k", "type": "nominal", "scale": {"domain": ["up", "dn", "gr"], "range": ["#4caf50", "#e5443c", "#787b86"]}, "legend": null}
          }
        },
        {
          "data": {"name": "slow"},
          "mark": {"type": "line", "color": "#8a8d96", "strokeWidth": 1.2},
          "encoding": {"x": {"field": "t", "type": "temporal"}, "y": {"field": "v", "type": "quantitative"}}
        },
        {
          "data": {"name": "rsi"},
          "mark": {"type": "line", "color": "#ffffff", "strokeWidth": 1.1},
          "encoding": {"x": {"field": "t", "type": "temporal"}, "y": {"field": "v", "type": "quantitative"}}
        },
        {
          "data": {"values": [{"t": "1981-09-05", "v": 72.4}, {"t": "2022-11-01", "v": 72.4}]},
          "mark": {"type": "point", "shape": "circle", "size": 625, "filled": false, "stroke": "#b8405a", "strokeWidth": 1, "opacity": 1},
          "encoding": {"x": {"field": "t", "type": "temporal"}, "y": {"field": "v", "type": "quantitative"}}
        }
      ]
    },
    {
      "width": 893,
      "height": 47,
      "layer": [
        {
          "data": {"values": [
            {"k": "r1", "t": "1979-07-23", "t2": "2022-12-20", "v": 51, "v2": 94},
            {"k": "r2", "t": "1979-07-23", "t2": "2022-12-20", "v": 64, "v2": 90},
            {"k": "g1", "t": "1979-07-23", "t2": "2022-12-20", "v": -92, "v2": -51},
            {"k": "g2", "t": "1979-07-23", "t2": "2022-12-20", "v": -86, "v2": -60}
          ]},
          "mark": {"type": "rect"},
          "encoding": {
            "x": {"field": "t", "type": "temporal",
              "scale": {"domain": [{"year": 1979, "month": 7, "date": 23}, {"year": 2026, "month": 11, "date": 5}]},
              "axis": {"format": "%Y", "tickCount": {"interval": "year", "step": 2}, "labelPadding": 3, "labelFlush": false, "labelOverlap": false,
                "labelFontSize": 6.6, "labelFontWeight": 500, "ticks": false, "domain": true, "title": null, "grid": false}},
            "x2": {"field": "t2"},
            "y": {"field": "v", "type": "quantitative",
              "scale": {"domain": [-110.3, 130.8], "nice": false, "zero": false},
              "axis": {"orient": "right", "values": [-100, 0, 100], "format": ".4f", "labelPadding": 4, "minExtent": 39, "maxExtent": 39, "domain": true, "title": null}},
            "y2": {"field": "v2"},
            "color": {"field": "k", "type": "nominal", "scale": {"domain": ["r1", "r2", "g1", "g2"], "range": ["#8f1c26", "#bd2430", "#1b8a31", "#2fc24d"]}, "legend": null}
          }
        },
        {
          "data": {"name": "sig"},
          "mark": {"type": "line", "color": "#2a6b78", "strokeWidth": 2, "opacity": 0.75},
          "encoding": {"x": {"field": "t", "type": "temporal"}, "y": {"field": "v", "type": "quantitative"}}
        },
        {
          "data": {"name": "osc"},
          "transform": [
            {"window": [{"op": "lead", "field": "t", "as": "t2"}, {"op": "lead", "field": "v", "as": "v2"}]},
            {"filter": "datum.t2 != null"}
          ],
          "mark": {"type": "rule", "strokeWidth": 1},
          "encoding": {
            "x": {"field": "t", "type": "temporal"},
            "x2": {"field": "t2"},
            "y": {"field": "v", "type": "quantitative"},
            "y2": {"field": "v2"},
            "color": {"condition": {"test": "datum.v2 >= datum.v", "value": "#43a047"}, "value": "#e0343f"}
          }
        },
        {
          "data": {"name": "osc"},
          "transform": [{"filter": "datum.d == 'r'"}],
          "mark": {"type": "point", "filled": true, "size": 14, "color": "#ff2b3a", "opacity": 1},
          "encoding": {"x": {"field": "t", "type": "temporal"}, "y": {"field": "v", "type": "quantitative"}}
        },
        {
          "data": {"name": "osc"},
          "transform": [{"filter": "datum.d == 'g'"}],
          "mark": {"type": "point", "filled": true, "size": 14, "color": "#3ad14f", "opacity": 1},
          "encoding": {"x": {"field": "t", "type": "temporal"}, "y": {"field": "v", "type": "quantitative"}}
        }
      ]
    }
  ]
}
